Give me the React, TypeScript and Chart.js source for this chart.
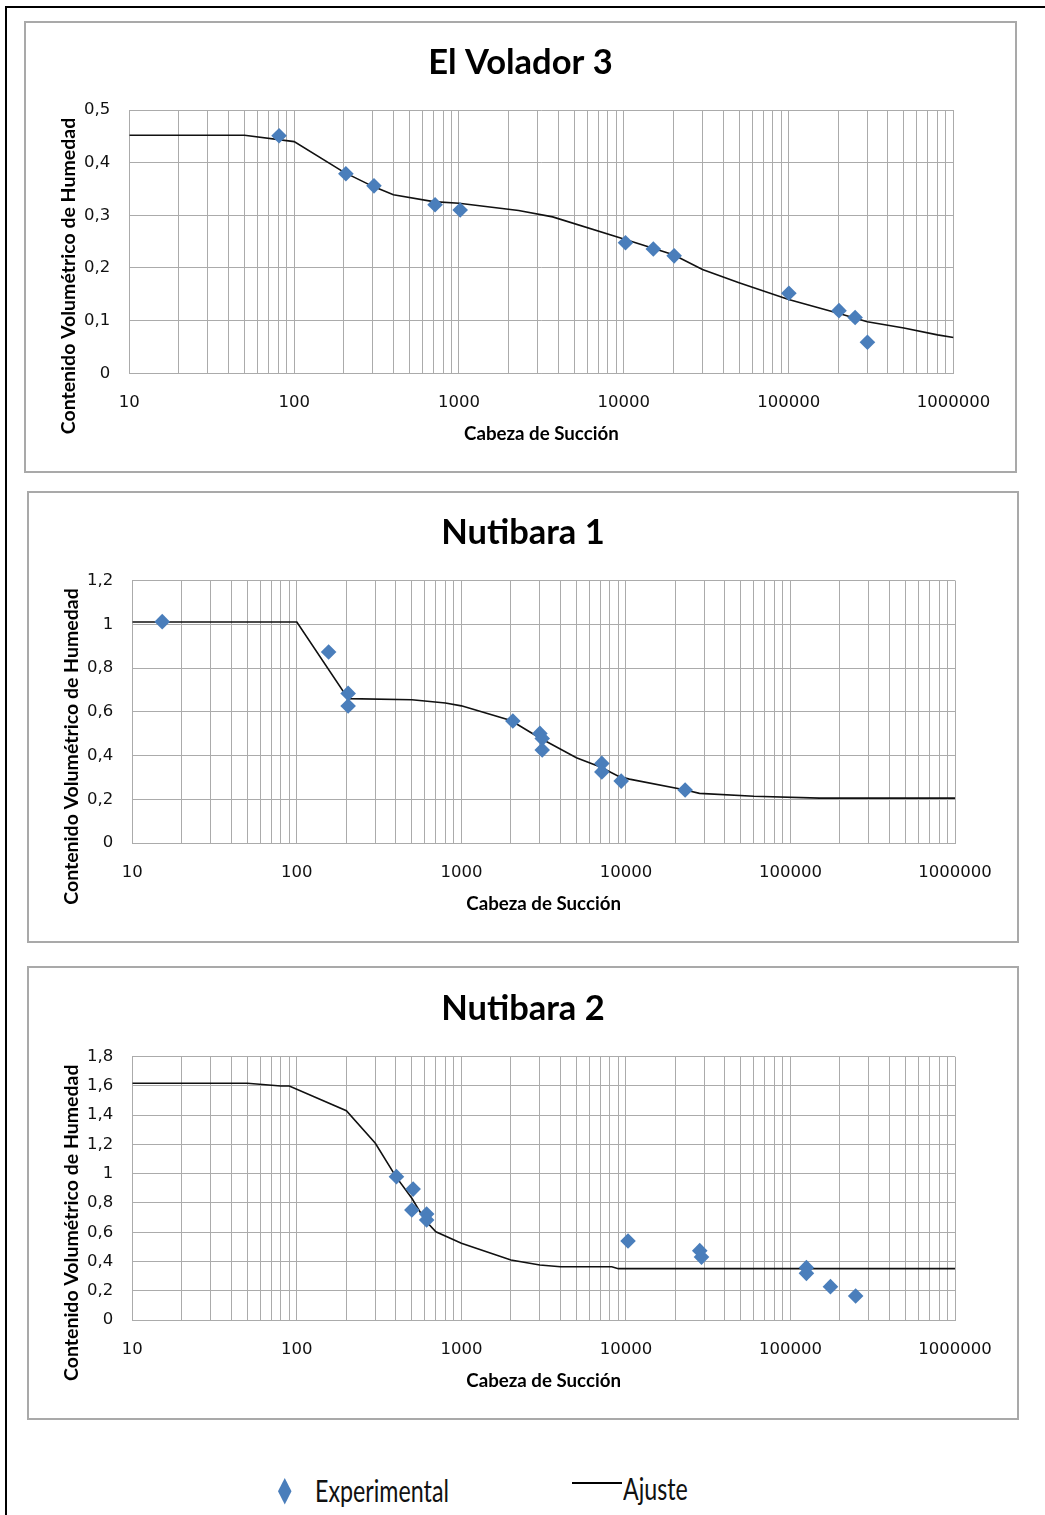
import React, { useEffect, useRef } from 'react';
import { Chart, registerables } from 'chart.js';

Chart.register(...registerables);

// ---------- shared axis data ----------
const X_MIN = 10;
const X_MAX = 1000000;
const X_DECADES = [10, 100, 1000, 10000, 100000];
const X_MULTIPLIERS = [1, 2, 3, 4, 5, 6, 7, 8, 9];
const X_LABELS = ['10', '100', '1000', '10000', '100000', '1000000'];
const X_TITLE = 'Cabeza de Succión';
const Y_TITLE = 'Contenido Volumétrico de Humedad';
const LEGEND_EXP = 'Experimental';
const LEGEND_FIT = 'Ajuste';

// ---------- El Volador 3 ----------
const TITLE_1 = 'El Volador 3';
const EXP_X_1 = [81, 206, 305, 716, 1017, 10240, 15100, 20200, 100300, 202000, 253000, 300500];
const EXP_Y_1 = [0.451, 0.379, 0.356, 0.32, 0.31, 0.248, 0.236, 0.223, 0.152, 0.119, 0.106, 0.059];
const FIT_X_1 = [10, 50, 100, 200, 300, 400, 700, 1000, 2300, 3700, 10000, 20000, 30000, 50000, 100000, 200000, 300000, 500000, 800000, 1000000];
const FIT_Y_1 = [0.452, 0.452, 0.44, 0.382, 0.355, 0.339, 0.326, 0.323, 0.309, 0.297, 0.255, 0.225, 0.197, 0.172, 0.14, 0.114, 0.098, 0.086, 0.073, 0.068];
const Y_MAX_1 = 0.5;
const Y_STEP_1 = 0.1;

// ---------- Nutibara 1 ----------
const TITLE_2 = 'Nutibara 1';
const EXP_X_2 = [15.2, 156, 205, 205, 2055, 3000, 3100, 3100, 7140, 7140, 9360, 22900];
const EXP_Y_2 = [1.012, 0.873, 0.684, 0.626, 0.558, 0.501, 0.478, 0.425, 0.364, 0.325, 0.283, 0.242];
const FIT_X_2 = [10, 100, 205, 500, 800, 1000, 2000, 3000, 5000, 7000, 9000, 10500, 23000, 28000, 60000, 150000, 1000000];
const FIT_Y_2 = [1.01, 1.01, 0.66, 0.655, 0.64, 0.627, 0.56, 0.48, 0.39, 0.347, 0.305, 0.292, 0.242, 0.227, 0.214, 0.205, 0.205];
const Y_MAX_2 = 1.2;
const Y_STEP_2 = 0.2;

// ---------- Nutibara 2 ----------
const TITLE_3 = 'Nutibara 2';
const EXP_X_3 = [403, 509, 500, 615, 615, 10300, 28100, 28800, 125000, 125000, 175000, 249000];
const EXP_Y_3 = [0.98, 0.895, 0.752, 0.725, 0.684, 0.54, 0.474, 0.43, 0.358, 0.319, 0.228, 0.164];
const FIT_X_3 = [10, 50, 80, 90, 200, 300, 400, 500, 600, 700, 1000, 2000, 3000, 4000, 8200, 9000, 1000000];
const FIT_Y_3 = [1.618, 1.618, 1.6, 1.6, 1.431, 1.208, 0.98, 0.832, 0.684, 0.603, 0.524, 0.41, 0.376, 0.364, 0.364, 0.351, 0.351];
const Y_MAX_3 = 1.8;
const Y_STEP_3 = 0.2;

// ---------- styles ----------
const MARKER_COLOR = '#4A7EBB';
const GRID_COLOR = '#ababab';
const BOX_BORDER = '#a9a9a9';
const TICK_FONT = { family: 'DejaVu Sans', size: 16.5 };
const TITLE_FONT = 'bold 34.5px Lato';
const X_TITLE_FONT = 'bold 18.7px Lato';
const Y_TITLE_FONT = 'bold 19.5px Lato';

const LOG_TICKS: number[] = [];
X_DECADES.forEach((d) => X_MULTIPLIERS.forEach((m) => LOG_TICKS.push(d * m)));
LOG_TICKS.push(X_MAX);

type Panel = {
  title: string;
  expX: number[];
  expY: number[];
  fitX: number[];
  fitY: number[];
  yMax: number;
  yStep: number;
  box: { left: number; top: number; width: number; height: number };
  plot: { left: number; top: number; right: number; bottom: number };
};

const PANELS: Panel[] = [
  {
    title: TITLE_1, expX: EXP_X_1, expY: EXP_Y_1, fitX: FIT_X_1, fitY: FIT_Y_1, yMax: Y_MAX_1, yStep: Y_STEP_1,
    box: { left: 24, top: 21, width: 993, height: 452 },
    plot: { left: 105.3, top: 89, right: 929.5, bottom: 352.3 },
  },
  {
    title: TITLE_2, expX: EXP_X_2, expY: EXP_Y_2, fitX: FIT_X_2, fitY: FIT_Y_2, yMax: Y_MAX_2, yStep: Y_STEP_2,
    box: { left: 27, top: 491, width: 992, height: 452 },
    plot: { left: 105.3, top: 89.5, right: 928, bottom: 352 },
  },
  {
    title: TITLE_3, expX: EXP_X_3, expY: EXP_Y_3, fitX: FIT_X_3, fitY: FIT_Y_3, yMax: Y_MAX_3, yStep: Y_STEP_3,
    box: { left: 27, top: 966, width: 992, height: 454 },
    plot: { left: 105.3, top: 90.7, right: 928, bottom: 354 },
  },
];

const fmtY = (v: number) => String(Math.round(v * 10) / 10).replace('.', ',');

function makeTextPlugin(p: Panel) {
  return {
    id: 'panelTexts',
    afterDraw(chart: any) {
      const ctx = chart.ctx as CanvasRenderingContext2D;
      const area = chart.chartArea;
      ctx.save();
      ctx.fillStyle = '#000';
      ctx.textAlign = 'center';
      ctx.textBaseline = 'alphabetic';
      ctx.font = TITLE_FONT;
      ctx.fillText(p.title, chart.width / 2, area.top - 36.5);
      ctx.font = X_TITLE_FONT;
      ctx.fillText(X_TITLE, (area.left + area.right) / 2, area.bottom + 67);
      ctx.font = Y_TITLE_FONT;
      ctx.translate(50.5, area.top + 166);
      ctx.rotate(-Math.PI / 2);
      ctx.fillText(Y_TITLE, 0, 0);
      ctx.restore();
    },
  };
}

function PanelChart({ p }: { p: Panel }) {
  const ref = useRef<HTMLCanvasElement | null>(null);
  useEffect(() => {
    if (!ref.current) return;
    const W = p.box.width;
    const H = p.box.height;
    const chart = new Chart(ref.current, {
      type: 'scatter',
      data: {
        datasets: [
          {
            label: LEGEND_EXP,
            data: p.expX.map((x, i) => ({ x, y: p.expY[i] })),
            pointStyle: 'rectRot',
            pointRadius: 7.8,
            pointBackgroundColor: MARKER_COLOR,
            pointBorderColor: MARKER_COLOR,
            pointBorderWidth: 0,
            showLine: false,
            order: 0,
          },
          {
            label: LEGEND_FIT,
            data: p.fitX.map((x, i) => ({ x, y: p.fitY[i] })),
            showLine: true,
            pointRadius: 0,
            borderColor: '#111',
            borderWidth: 1.6,
            tension: 0,
            order: 1,
          },
        ],
      },
      options: {
        responsive: false,
        animation: false,
        devicePixelRatio: 1,
        events: [],
        layout: { padding: { left: 0, top: p.plot.top, right: W - p.plot.right, bottom: 0 } },
        plugins: { legend: { display: false }, title: { display: false }, tooltip: { enabled: false } },
        scales: {
          x: {
            type: 'logarithmic',
            min: X_MIN,
            max: X_MAX,
            afterBuildTicks: (s: any) => {
              s.ticks = LOG_TICKS.map((v) => ({ value: v }));
            },
            afterFit: (s: any) => {
              s.height = H - p.plot.bottom;
            },
            grid: { color: GRID_COLOR, lineWidth: 1, drawTicks: false },
            border: { display: true, color: GRID_COLOR, width: 1 },
            ticks: {
              autoSkip: false,
              maxRotation: 0,
              minRotation: 0,
              padding: 20,
              color: '#111',
              font: TICK_FONT,
              callback: (v: any) => (X_LABELS.includes(String(v)) ? String(v) : ''),
            },
          },
          y: {
            type: 'linear',
            min: 0,
            max: p.yMax,
            afterFit: (s: any) => {
              s.width = p.plot.left;
            },
            grid: { color: GRID_COLOR, lineWidth: 1, drawTicks: false },
            border: { display: true, color: GRID_COLOR, width: 1 },
            ticks: {
              stepSize: p.yStep,
              padding: 19,
              color: '#111',
              font: TICK_FONT,
              callback: (v: any) => fmtY(Number(v)),
            },
          },
        },
      } as any,
      plugins: [makeTextPlugin(p)],
    });
    let alive = true;
    if ((document as any).fonts && (document as any).fonts.ready) {
      (document as any).fonts.ready.then(() => {
        if (alive) chart.update();
      });
    }
    return () => {
      alive = false;
      chart.destroy();
    };
  }, [p]);
  return (
    <div
      style={{
        position: 'absolute',
        left: p.box.left,
        top: p.box.top,
        width: p.box.width,
        height: p.box.height,
        background: '#fff',
      }}
    >
      <canvas ref={ref} width={p.box.width} height={p.box.height} style={{ display: 'block' }} />
      <div
        style={{
          position: 'absolute',
          left: 0,
          top: 0,
          width: p.box.width,
          height: p.box.height,
          boxSizing: 'border-box',
          border: `2px solid ${BOX_BORDER}`,
          pointerEvents: 'none',
        }}
      />
    </div>
  );
}

export default function App() {
  return (
    <div
      style={{
        position: 'absolute',
        left: 0,
        top: 0,
        width: 1045,
        height: 1515,
        overflow: 'hidden',
        background: '#fff',
      }}
    >
      <div
        style={{
          position: 'absolute',
          left: 5,
          top: 6,
          width: 1060,
          height: 1530,
          borderLeft: '2px solid #000',
          borderTop: '2px solid #000',
        }}
      />
      {PANELS.map((p, i) => (
        <PanelChart key={i} p={p} />
      ))}
      {/* shared legend */}
      <div
        style={{
          position: 'absolute',
          left: 278,
          top: 1478,
          width: 13.5,
          height: 26.5,
          background: MARKER_COLOR,
          clipPath: 'polygon(50% 0, 100% 50%, 50% 100%, 0 50%)',
        }}
      />
      <div
        style={{
          position: 'absolute',
          left: 315,
          top: 1474.5,
          fontFamily: 'Lato',
          fontSize: 31,
          lineHeight: '31px',
          whiteSpace: 'nowrap',
          color: '#111',
          transform: 'scaleX(0.75)',
          transformOrigin: '0 0',
        }}
      >
        {LEGEND_EXP}
      </div>
      <div style={{ position: 'absolute', left: 572, top: 1482, width: 50, height: 2, background: '#000' }} />
      <div
        style={{
          position: 'absolute',
          left: 623,
          top: 1472.5,
          fontFamily: 'Lato',
          fontSize: 31,
          lineHeight: '31px',
          whiteSpace: 'nowrap',
          color: '#111',
          transform: 'scaleX(0.75)',
          transformOrigin: '0 0',
        }}
      >
        {LEGEND_FIT}
      </div>
    </div>
  );
}
